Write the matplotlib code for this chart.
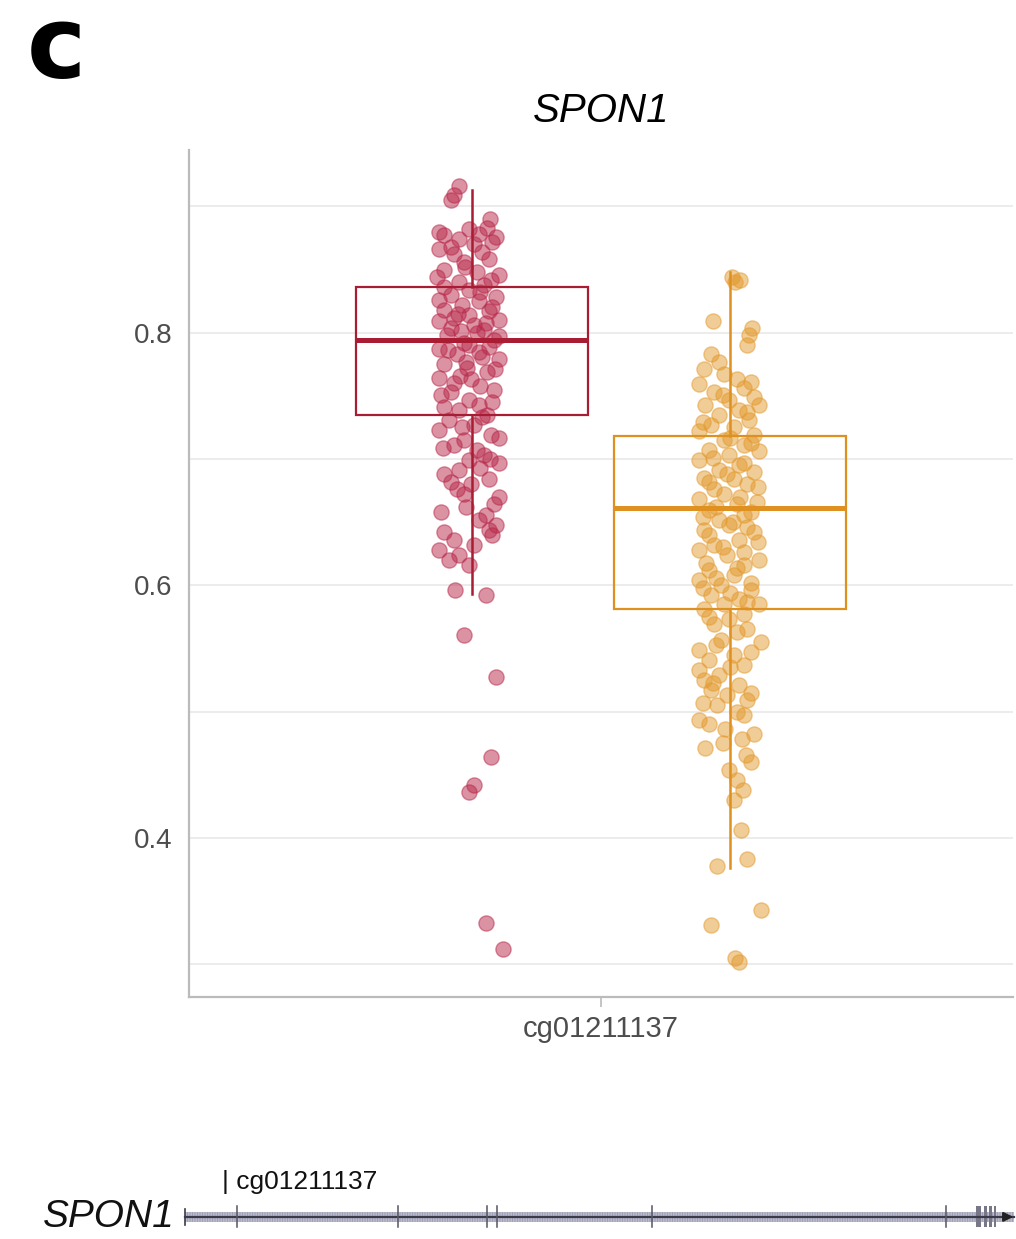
import matplotlib
matplotlib.use("Agg")
import matplotlib.pyplot as plt
from matplotlib.patches import Rectangle
import numpy as np

# ---------------- data ----------------
probe = "cg01211137"
gene = "SPON1"
group_colors = ["#A81D33", "#DE9020"]
point_colors = ["#B8284A", "#E39A2E"]

red_values = [0.916, 0.909, 0.905, 0.890, 0.883, 0.882, 0.880, 0.877, 0.878, 0.876,
              0.874, 0.870, 0.866, 0.862, 0.858, 0.856, 0.850, 0.848, 0.846, 0.844,
              0.840, 0.838, 0.834, 0.830, 0.828, 0.826, 0.825, 0.822, 0.818, 0.817,
              0.814, 0.812, 0.810, 0.809, 0.806, 0.802, 0.801, 0.798, 0.794, 0.790,
              0.787, 0.785, 0.783, 0.779, 0.775, 0.772, 0.769, 0.764, 0.763, 0.760,
              0.755, 0.751, 0.747, 0.743, 0.739, 0.735, 0.731, 0.727, 0.723, 0.719,
              0.715, 0.711, 0.707, 0.703, 0.699, 0.697, 0.691, 0.688, 0.684, 0.680,
              0.676, 0.672, 0.664, 0.658, 0.656, 0.652, 0.644, 0.640, 0.636, 0.632,
              0.628, 0.624, 0.620, 0.616, 0.596, 0.592, 0.561, 0.527, 0.464, 0.442,
              0.436, 0.333, 0.312,
              0.872, 0.868, 0.864, 0.852, 0.842, 0.836, 0.832, 0.820, 0.815, 0.808,
              0.804, 0.800, 0.797, 0.792, 0.789, 0.786, 0.781, 0.777, 0.771, 0.766,
              0.758, 0.753, 0.745, 0.741, 0.733, 0.725, 0.717, 0.709, 0.700, 0.693,
              0.682, 0.670, 0.662, 0.648, 0.642]
red_jitter = [-0.019, -0.026, -0.031, 0.026, 0.022, -0.004, -0.048, -0.041, 0.010, 0.035,
              -0.019, 0.003, -0.048, -0.026, 0.025, -0.012, -0.041, 0.007, 0.039, -0.051,
              -0.019, 0.017, -0.004, -0.031, 0.035, -0.048, 0.010, -0.015, -0.041, 0.025,
              -0.004, -0.026, 0.039, -0.048, 0.003, 0.017, -0.016, -0.036, 0.032, -0.004,
              -0.048, 0.010, -0.022, 0.039, -0.041, -0.007, 0.022, -0.048, -0.001, -0.026,
              0.032, -0.045, -0.004, 0.010, -0.019, 0.022, -0.033, 0.003, -0.048, 0.028,
              -0.012, -0.026, 0.007, 0.017, -0.004, 0.039, -0.019, -0.041, 0.025, -0.001,
              -0.022, -0.012, 0.032, -0.045, 0.020, 0.010, 0.025, 0.029, -0.026, 0.003,
              -0.048, -0.019, -0.033, -0.004, -0.025, 0.020, -0.012, 0.035, 0.028, 0.003,
              -0.004, 0.020, 0.045,
              0.030, -0.030, 0.015, -0.010, 0.028, -0.040, 0.012, 0.030, -0.020, 0.020,
              -0.030, 0.008, 0.040, -0.012, 0.025, -0.035, 0.015, -0.008, 0.033, -0.018,
              0.012, -0.030, 0.030, -0.040, 0.015, -0.015, 0.040, -0.042, 0.026, 0.012,
              -0.030, 0.040, -0.008, 0.035, -0.040]

orange_values = [0.844, 0.842, 0.840, 0.809, 0.804, 0.798, 0.790, 0.783, 0.777, 0.771,
                 0.767, 0.763, 0.759, 0.756, 0.753, 0.749, 0.747, 0.743, 0.739, 0.743,
                 0.735, 0.731, 0.727, 0.725, 0.722, 0.719, 0.715, 0.711, 0.707, 0.706,
                 0.703, 0.699, 0.695, 0.691, 0.690, 0.685, 0.684, 0.680, 0.676, 0.672,
                 0.668, 0.666, 0.664, 0.660, 0.656, 0.652, 0.648, 0.644, 0.642, 0.636,
                 0.632, 0.628, 0.624, 0.620, 0.616, 0.612, 0.608, 0.604, 0.600, 0.596,
                 0.592, 0.589, 0.585, 0.585, 0.581, 0.577, 0.573, 0.569, 0.563, 0.555,
                 0.557, 0.549, 0.545, 0.541, 0.537, 0.533, 0.529, 0.525, 0.521, 0.517,
                 0.513, 0.509, 0.505, 0.500, 0.493, 0.486, 0.478, 0.471, 0.466, 0.460,
                 0.454, 0.446, 0.438, 0.430, 0.406, 0.383, 0.378, 0.343, 0.331, 0.305,
                 0.302,
                 0.761, 0.751, 0.737, 0.729, 0.717, 0.713, 0.701, 0.697, 0.688, 0.682,
                 0.678, 0.670, 0.662, 0.658, 0.654, 0.650, 0.646, 0.640, 0.634, 0.630,
                 0.626, 0.618, 0.614, 0.606, 0.602, 0.598, 0.594, 0.587, 0.575, 0.565,
                 0.553, 0.547, 0.535, 0.523, 0.515, 0.507, 0.497, 0.490, 0.482, 0.475]
orange_jitter = [0.003, 0.015, 0.007, -0.025, 0.032, 0.028, 0.025, -0.028, -0.016, -0.038,
                 -0.009, 0.010, -0.045, 0.020, -0.023, 0.035, -0.001, -0.036, 0.013, 0.042,
                 -0.016, 0.028, -0.028, 0.006, -0.045, 0.035, -0.009, 0.020, -0.031, 0.042,
                 -0.001, -0.045, 0.013, -0.016, 0.035, -0.038, 0.006, 0.025, -0.023, -0.009,
                 -0.045, 0.039, 0.010, -0.031, 0.020, -0.016, -0.001, -0.038, 0.035, 0.013,
                 -0.023, -0.045, -0.004, 0.042, 0.020, -0.031, 0.006, -0.045, -0.013, 0.031,
                 -0.028, 0.013, -0.009, 0.042, -0.038, 0.020, -0.001, -0.023, 0.010, 0.045,
                 -0.013, -0.045, 0.006, -0.031, 0.020, -0.045, -0.016, -0.038, 0.013, -0.028,
                 -0.004, 0.025, -0.019, 0.010, -0.045, -0.007, 0.017, -0.036, 0.023, 0.031,
                 -0.001, 0.010, 0.019, 0.006, 0.016, 0.025, -0.019, 0.045, -0.028, 0.007,
                 0.013,
                 0.030, -0.010, 0.025, -0.040, 0.000, 0.030, -0.025, 0.020, -0.005, -0.030,
                 0.040, 0.015, -0.020, 0.030, -0.040, 0.005, 0.025, -0.030, 0.040, -0.010,
                 0.020, -0.035, 0.010, -0.020, 0.030, -0.040, 0.000, 0.025, -0.030, 0.025,
                 -0.020, 0.030, 0.000, -0.025, 0.030, -0.040, 0.020, -0.030, 0.035, -0.010]

# box statistics
box_whislo = [0.593, 0.376]
box_q1 = [0.735, 0.581]
box_med = [0.794, 0.661]
box_q3 = [0.836, 0.718]
box_whishi = [0.913, 0.848]

y_ticks = [0.4, 0.6, 0.8]
y_minor = [0.3, 0.5, 0.7, 0.9]

# gene track (arbitrary track coordinates)
gene_start, gene_end = -3, 1000
exon_lines = [60, 255, 363, 375, 562, 918]
exon_blocks = [(955, 6), (964, 4), (970, 4), (976, 3)]
probe_pos = 42

# ---------------- figure ----------------
plt.rcParams['font.family'] = ['Liberation Sans', 'DejaVu Sans']
fig = plt.figure(figsize=(10.16, 12.39), dpi=100)
ax = fig.add_axes([0.186, 0.1953, 0.811, 0.684])

centers = [1 - 0.188, 1 + 0.188]
box_w = 0.338

for vals, jit, c, col in zip([red_values, orange_values], [red_jitter, orange_jitter],
                             centers, point_colors):
    xs = c + np.array(jit)
    ax.scatter(xs, vals, s=120, color=col, alpha=0.5, edgecolors=col,
               linewidths=1.0, zorder=2)

for i in range(2):
    col = group_colors[i]
    st = dict(whislo=box_whislo[i], q1=box_q1[i], med=box_med[i],
              q3=box_q3[i], whishi=box_whishi[i], fliers=[])
    ax.bxp([st], positions=[centers[i]], widths=box_w, showcaps=False,
           showfliers=False, patch_artist=True,
           boxprops=dict(facecolor='none', edgecolor=col, linewidth=1.6),
           whiskerprops=dict(color=col, linewidth=1.8),
           medianprops=dict(color=col, linewidth=3.6),
           zorder=3, manage_ticks=False)

ax.set_xlim(0.4, 1.6)
ax.set_ylim(0.274, 0.945)
ax.set_yticks(y_ticks)
ax.set_yticks(y_minor, minor=True)
ax.set_yticklabels([f"{t:.1f}" for t in y_ticks])
ax.grid(True, axis='y', which='both', color='#EBEBEB', linewidth=1.3, zorder=0)
ax.set_axisbelow(True)
ax.set_xticks([1.0])
ax.set_xticklabels([probe])
ax.tick_params(axis='y', which='both', length=0, pad=12, labelsize=20, labelcolor='#4D4D4D')
ax.tick_params(axis='x', length=7, width=1.2, color='#BBBBBB', pad=6, labelsize=21,
               labelcolor='#4D4D4D')
for s in ['top', 'right']:
    ax.spines[s].set_visible(False)
for s in ['left', 'bottom']:
    ax.spines[s].set_color('#BBBBBB')
    ax.spines[s].set_linewidth(1.6)
ax.set_title(gene, fontsize=29, style='italic', pad=20)

fig.text(0.026, 1 - 78 / 1239, "c", fontsize=72, fontweight='bold', family='DejaVu Sans',
         ha='left', va='baseline')

# gene track
gx = fig.add_axes([0.18, 0.0, 0.82, 0.07])
gx.set_xlim(-5, 1003)
gx.set_ylim(0, 1)
gx.axis('off')
gy = 0.255
gx.add_patch(Rectangle((gene_start, gy - 0.055), gene_end - gene_start, 0.11,
                       facecolor='none', edgecolor='#A0A0B8', hatch='||||||||||',
                       linewidth=0))
gx.plot([gene_start, gene_end], [gy, gy], color='#3A3A4A', linewidth=1.6)
gx.plot([gene_start, gene_start], [gy - 0.09, gy + 0.09], color='#3A3A4A', linewidth=1.2)
for e in exon_lines:
    gx.plot([e, e], [gy - 0.12, gy + 0.12], color='#555566', linewidth=1.1)
for s, w in exon_blocks:
    gx.add_patch(Rectangle((s, gy - 0.12), w, 0.24, facecolor='#777788',
                           edgecolor='none'))
gx.annotate("", xy=(gene_end + 3, gy), xytext=(gene_end - 15, gy),
            arrowprops=dict(arrowstyle='-|>', color='#222222', lw=1.5,
                            mutation_scale=14))
gx.text(probe_pos, 0.66, "| " + probe, fontsize=19, ha='left', va='center',
        color='#111111')
fig.text(0.172, gy * 0.07, gene, fontsize=28, style='italic', ha='right',
         va='center', color='#111111')

fig.savefig("out.png", dpi=100)
